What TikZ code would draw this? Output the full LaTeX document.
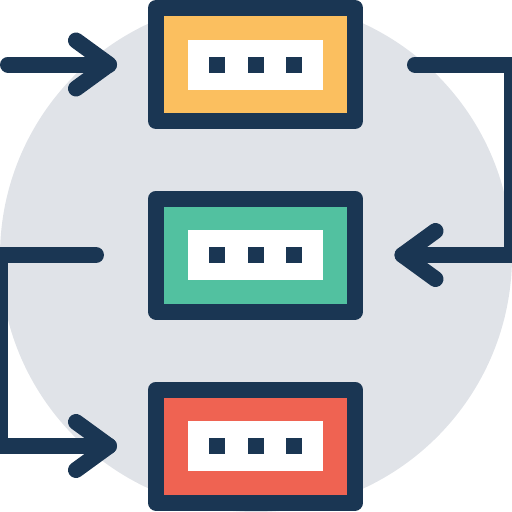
\documentclass[tikz,border=0pt]{standalone}
\definecolor{navy}{HTML}{1A3653}
\definecolor{backdrop}{HTML}{E0E3E8}
\definecolor{stepone}{HTML}{FBBF5F}
\definecolor{steptwo}{HTML}{52C1A0}
\definecolor{stepthree}{HTML}{EF6352}
\begin{document}
\begin{tikzpicture}[
    x=1pt, y=-1pt,
    stage/.style={draw=navy, line width=16pt, line join=round,
                  minimum width=199pt, minimum height=113pt, inner sep=0pt},
    slot/.style={fill=white, minimum width=135pt, minimum height=50pt, inner sep=0pt},
    dot/.style={fill=navy, minimum size=16pt, inner sep=0pt},
    flow/.style={draw=navy, line width=16pt, line cap=round, line join=round},
  ]
    \useasboundingbox (0,0) rectangle (512,512);
    \fill[backdrop] (256,256) circle [radius=256pt];

    % the three stages
    \node[stage, fill=stepone]   (top) at (255.5,64.5) {};
    \node[stage, fill=steptwo]   (mid) at (255.5,255)  {};
    \node[stage, fill=stepthree] (bot) at (255.5,446)  {};
    \foreach \b in {top,mid,bot} {
      \node[slot] (\b-slot) at (\b.center) {};
      \node[dot] at ([xshift=-39pt]\b-slot.center) {};
      \node[dot] at (\b-slot.center) {};
      \node[dot] at ([xshift=38.5pt]\b-slot.center) {};
    }

    % connectors, with their chevron heads
    \coordinate (start) at (8,64.5);
    \draw[flow] (start) -- ([xshift=-39pt]top.west) coordinate (in1);
    \draw[flow] (in1) ++(-33,-24) -- (in1) -- ++(-33,24);
    \draw[flow] ([xshift=52pt]top.east) -- ++(96.5,0) |- ([xshift=39.5pt]mid.east) coordinate (in2);
    \draw[flow] (in2) ++(33,-24) -- (in2) -- ++(33,24);
    \draw[flow] ([xshift=-52pt]mid.west) -- ++(-96,0) |- ([xshift=-39pt]bot.west) coordinate (in3);
    \draw[flow] (in3) ++(-33,-24) -- (in3) -- ++(-33,24);
\end{tikzpicture}
\end{document}
